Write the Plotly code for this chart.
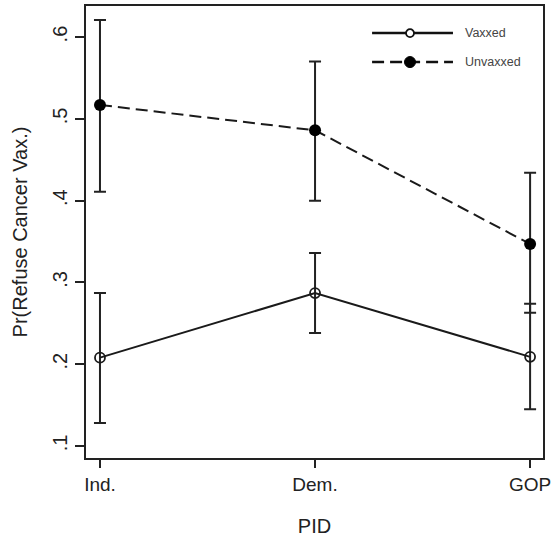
import plotly.graph_objects as go

categories = ["Ind.", "Dem.", "GOP"]
x_pos = [0, 1, 2]

vaxxed = [0.208, 0.287, 0.209]
vaxxed_lo = [0.128, 0.238, 0.145]
vaxxed_hi = [0.287, 0.336, 0.274]

unvaxxed = [0.517, 0.486, 0.347]
unvaxxed_lo = [0.411, 0.400, 0.263]
unvaxxed_hi = [0.621, 0.570, 0.434]

y_ticks = [0.1, 0.2, 0.3, 0.4, 0.5, 0.6]
y_tick_labels = [".1", ".2", ".3", ".4", ".5", ".6"]

series_names = ["Vaxxed", "Unvaxxed"]

def err(vals, lo, hi):
    return dict(type="data", symmetric=False,
                array=[h - v for v, h in zip(vals, hi)],
                arrayminus=[v - l for v, l in zip(vals, lo)],
                color="#222222", thickness=2, width=6)

DASH = "12px,6px"

fig = go.Figure()
fig.add_trace(go.Scatter(
    x=x_pos, y=vaxxed, mode="lines+markers", name=series_names[0],
    line=dict(color="#1a1a1a", width=2, dash="solid"),
    marker=dict(symbol="circle-open", size=10, color="#1a1a1a", line=dict(width=1.8)),
    error_y=err(vaxxed, vaxxed_lo, vaxxed_hi), showlegend=False))
fig.add_trace(go.Scatter(
    x=x_pos, y=unvaxxed, mode="lines+markers", name=series_names[1],
    line=dict(color="#1a1a1a", width=2, dash=DASH),
    marker=dict(symbol="circle", size=12, color="#000000"),
    error_y=err(unvaxxed, unvaxxed_lo, unvaxxed_hi), showlegend=False))

# custom legend (paper coordinates)
shapes = []
annotations = []
leg_y = [0.940, 0.876]
dashes = ["solid", DASH]
for i, name in enumerate(series_names):
    shapes.append(dict(type="line", xref="paper", yref="paper",
                       x0=0.626, x1=0.803, y0=leg_y[i], y1=leg_y[i],
                       line=dict(color="#111111", width=2.5, dash=dashes[i])))
    annotations.append(dict(xref="paper", yref="paper", x=0.832, y=leg_y[i],
                            text=name, showarrow=False, xanchor="left",
                            yanchor="middle", xshift=-3,
                            font=dict(family="Liberation Sans, Arial", size=12.5,
                                      color="#444444")))
# legend markers
shapes.append(dict(type="circle", xref="paper", yref="paper", xsizemode="pixel",
                   ysizemode="pixel", xanchor=0.709, yanchor=leg_y[0],
                   x0=-4, x1=4, y0=-4, y1=4,
                   line=dict(color="#111111", width=1.8), fillcolor="white"))
shapes.append(dict(type="circle", xref="paper", yref="paper", xsizemode="pixel",
                   ysizemode="pixel", xanchor=0.709, yanchor=leg_y[1],
                   x0=-5.5, x1=5.5, y0=-5.5, y1=5.5,
                   line=dict(color="#000000", width=1), fillcolor="#000000"))

font = dict(family="Liberation Sans, Arial", size=20, color="#222222")
xfont = dict(family="Liberation Sans, Arial", size=19, color="#222222")

fig.update_layout(
    width=551, height=538,
    margin=dict(l=86, r=8, t=6, b=80, autoexpand=False),
    paper_bgcolor="white", plot_bgcolor="white",
    font=font,
    shapes=shapes, annotations=annotations,
    xaxis=dict(range=[-0.065, 2.06], tickvals=x_pos, ticktext=categories,
               showgrid=False, zeroline=False, automargin=False,
               ticklabeloverflow="allow",
               showline=True, linecolor="#222222", linewidth=2, mirror=True,
               ticks="outside", ticklen=8, tickwidth=1.5, tickcolor="#222222",
               title=dict(text="PID", standoff=25, font=font),
               tickfont=xfont),
    yaxis=dict(range=[0.0853, 0.638], tickvals=y_ticks, ticktext=y_tick_labels,
               showgrid=False, zeroline=False, automargin=False,
               ticklabeloverflow="allow",
               showline=True, linecolor="#222222", linewidth=2, mirror=True,
               ticks="outside", ticklen=9, tickwidth=1.5, tickcolor="#222222",
               tickangle=-90,
               title=dict(text="Pr(Refuse Cancer Vax.)", standoff=16, font=font),
               tickfont=font),
)

fig.write_html("out.html", config={"displayModeBar": False},
               post_script="document.body.style.margin='0';document.body.style.overflow='hidden';")
